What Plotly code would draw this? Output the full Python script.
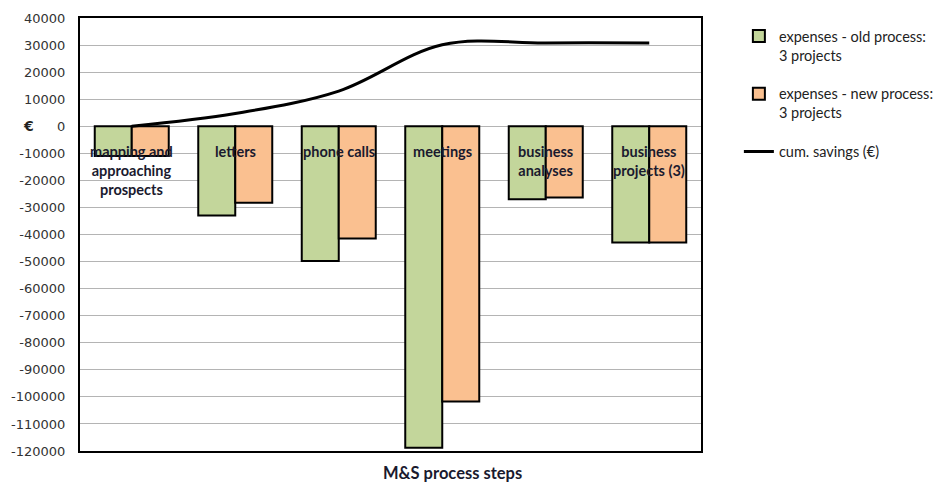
import plotly.graph_objects as go

# process steps and expenses (EUR, 3 projects)
steps = ["mapping and<br>approaching<br>prospects", "letters", "phone calls",
         "meetings", "business<br>analyses", "business<br>projects (3)"]
old_expenses = [-11000, -33000, -49800, -118800, -27000, -43000]
new_expenses = [-11000, -28300, -41500, -101700, -26300, -43000]
cum_savings = [0, 4700, 13000, 30100, 30800, 30800]

y_ticks = list(range(40000, -120001, -10000))
y_tick_text = [str(v) for v in y_ticks]

cats = list(range(len(steps)))

fig = go.Figure()
fig.add_trace(go.Bar(
    x=cats, y=old_expenses, name="expenses - old process:<br>3 projects",
    marker=dict(color="#C3D69B", line=dict(color="#000000", width=2)),
    legendgroup="a",
))
fig.add_trace(go.Bar(
    x=cats, y=new_expenses, name="expenses - new process:<br>3 projects",
    marker=dict(color="#FAC090", line=dict(color="#000000", width=2)),
    legendgroup="b",
))
fig.add_trace(go.Scatter(
    x=cats, y=cum_savings, name="cum. savings (€)", mode="lines",
    line=dict(color="#000000", width=3, shape="spline", smoothing=1.0),
    legendgroup="c",
))

# step names written just below the zero line
for i, s in enumerate(steps):
    fig.add_annotation(x=i, y=0, text=s, showarrow=False, xref="x", yref="y",
                       yanchor="top", yshift=-15,
                       font=dict(family="Lato", size=14.5, color="#1a1a2e", weight="bold"))

fig.add_annotation(x=-0.083, y=0, xref="paper", yref="y", text="€", showarrow=False,
                   xanchor="center",
                   font=dict(family="DejaVu Sans", size=14, color="#222222", weight="bold"))
fig.add_annotation(x=(452 - 80) / 621, y=-22 / 433, xref="paper", yref="paper",
                   text="M&S process steps", showarrow=False, yanchor="middle",
                   font=dict(family="Lato", size=16.5, color="#1a1a2e", weight="bold"))

fig.update_layout(
    width=940, height=484,
    margin=dict(l=80, r=239, t=18, b=33, autoexpand=False),
    paper_bgcolor="white", plot_bgcolor="white",
    barmode="group", bargap=0.285, bargroupgap=0,
    showlegend=True,
    legend=dict(x=1.061, y=0.995, xanchor="left", yanchor="top",
                traceorder="grouped", tracegroupgap=17, valign="top",
                font=dict(family="Lato", size=14.5, color="#222222"),
                itemwidth=30),
    xaxis=dict(range=[-0.5, 5.5], showticklabels=False, showgrid=False, zeroline=False,
               showline=True, linecolor="#000000", linewidth=2, mirror=True, ticks="",
               automargin=False),
    yaxis=dict(range=[-120000, 40000], tickvals=y_ticks, ticktext=y_tick_text,
               showgrid=True, gridcolor="#B4B4B4", gridwidth=1, zeroline=False,
               showline=True, linecolor="#000000", linewidth=2, mirror=True,
               tickfont=dict(family="DejaVu Sans", size=13, color="#333333"),
               ticks="", ticklen=0, ticklabelstandoff=10, automargin=False),
)

fig.write_html("out.html")
